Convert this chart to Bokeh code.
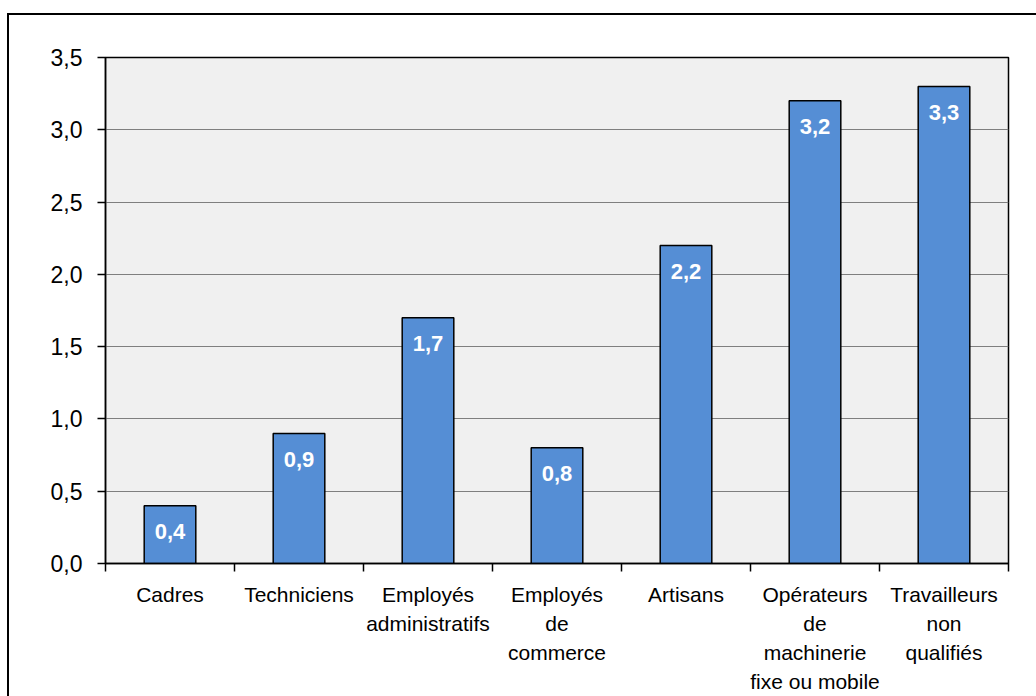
from bokeh.plotting import figure
from bokeh.models import FixedTicker, ColumnDataSource, Range1d, InlineStyleSheet
from bokeh.embed import file_html
from bokeh.resources import INLINE
from bokeh.core.properties import value

categories = ["Cadres", "Techniciens", "Employés\nadministratifs", "Employés\nde\ncommerce",
              "Artisans", "Opérateurs\nde\nmachinerie\nfixe ou mobile", "Travailleurs\nnon\nqualifiés"]
values = [0.4, 0.9, 1.7, 0.8, 2.2, 3.2, 3.3]
value_labels = ["0,4", "0,9", "1,7", "0,8", "2,2", "3,2", "3,3"]
y_ticks = [0.0, 0.5, 1.0, 1.5, 2.0, 2.5, 3.0, 3.5]
y_tick_labels = ["0,0", "0,5", "1,0", "1,5", "2,0", "2,5", "3,0", "3,5"]

n = len(categories)
xs = [i + 0.5 for i in range(n)]
src = ColumnDataSource(dict(x=xs, top=values, lab=value_labels))

FONT = "Liberation Sans"
W, H = 1036, 696
p = figure(width=W, height=H, output_backend="svg", toolbar_location=None,
           x_range=Range1d(0, n), y_range=Range1d(0, 3.5),
           min_border_left=105, min_border_right=28, min_border_top=57, min_border_bottom=133)
p.background_fill_color = "#F0F0F0"
p.border_fill_color = "white"
p.outline_line_color = "black"
p.outline_line_width = 1.5

p.vbar(x="x", top="top", bottom=0, width=0.4, source=src, fill_color="#558ED5",
       line_color="black", line_width=1.5)
p.text(x="x", y="top", text="lab", source=src, text_color="white", text_font=value(FONT),
       text_font_style="bold", text_font_size="22px", text_align="center",
       text_baseline="middle", y_offset=26)

p.xgrid.visible = False
p.ygrid.ticker = FixedTicker(ticks=y_ticks)
p.ygrid.grid_line_color = "#7F7F7F"
p.ygrid.grid_line_width = 1.2

ya = p.yaxis[0]
ya.ticker = FixedTicker(ticks=y_ticks)
ya.major_label_overrides = {t: l for t, l in zip(y_ticks, y_tick_labels)}
ya.axis_line_color = "black"
ya.axis_line_width = 1.5
ya.major_tick_out = 8
ya.major_tick_in = 0
ya.major_tick_line_width = 1.5
ya.minor_tick_line_color = None
ya.major_label_text_font = FONT
ya.major_label_text_font_size = "23px"
ya.major_label_text_color = "black"
ya.major_label_standoff = 15

xa = p.xaxis[0]
xa.ticker = FixedTicker(ticks=xs, minor_ticks=list(range(n + 1)))
xa.major_label_overrides = {x: c for x, c in zip(xs, categories)}
xa.axis_line_color = "black"
xa.axis_line_width = 1.5
xa.major_tick_out = 0
xa.major_tick_in = 0
xa.minor_tick_out = 8
xa.minor_tick_in = 0
xa.minor_tick_line_color = "black"
xa.minor_tick_line_width = 1.5
xa.major_label_text_font = FONT
xa.major_label_text_font_size = "21px"
xa.major_label_text_color = "black"
xa.major_label_text_line_height = 1.27
xa.major_label_standoff = 11

p.stylesheets = [InlineStyleSheet(css="""
:host { position: relative; overflow: visible; }
:host::after { content: ""; position: absolute; left: 7px; top: 13px; width: 1100px; height: 800px;
  border: 2px solid black; box-sizing: border-box; pointer-events: none; z-index: 100; }
""")]

open("out.html", "w").write(file_html(p, INLINE))
